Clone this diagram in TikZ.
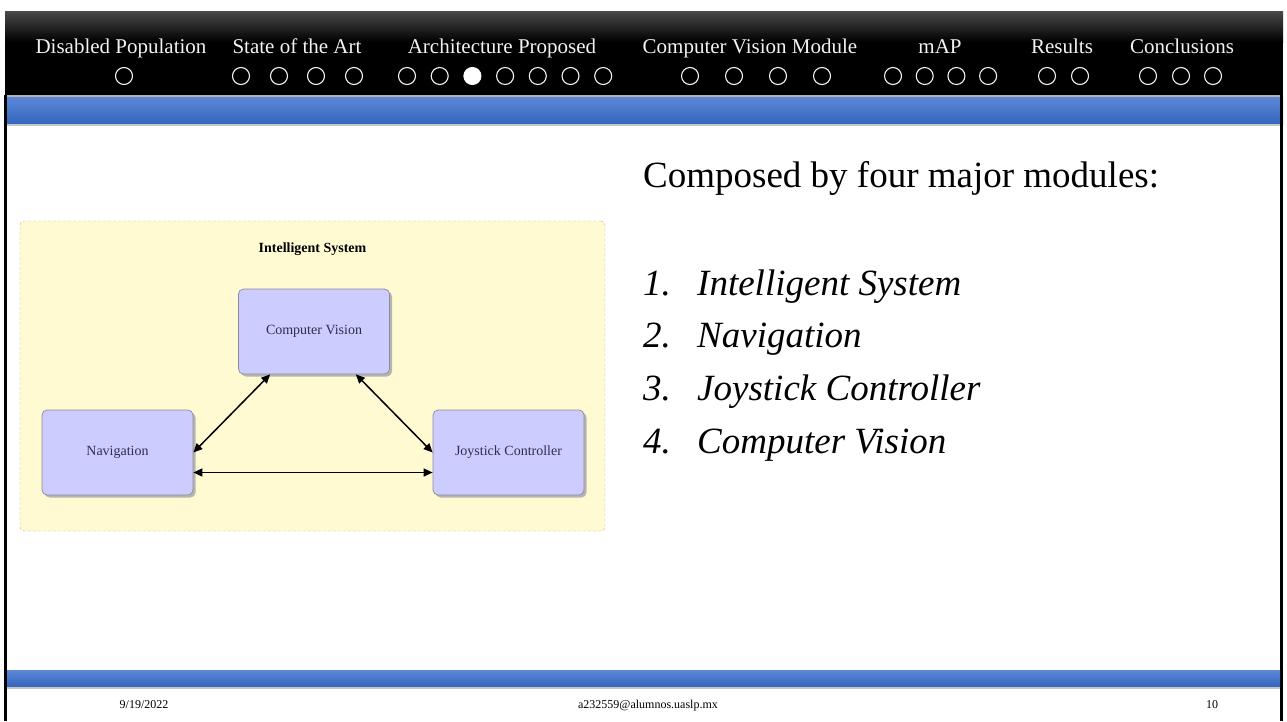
\documentclass[tikz,border=0pt]{standalone}
\usepackage{fontspec}
\setmainfont{Liberation Serif}
\usetikzlibrary{positioning}
\usetikzlibrary{shadows}
\usetikzlibrary{arrows.meta}

\definecolor{bandtop}{HTML}{5B87D6}
\definecolor{bandbot}{HTML}{3465BE}
\definecolor{headgrey}{HTML}{4A4A4A}
\definecolor{sysfill}{HTML}{FFFAD2}
\definecolor{sysline}{HTML}{BDB89A}
\definecolor{modfill}{HTML}{CCCCFF}
\definecolor{modline}{HTML}{8A8A9E}
\definecolor{modtext}{HTML}{2E2E4E}

\tikzset{
  navtitle/.style={anchor=base,inner sep=0pt,text=white!95!black,font=\fontsize{21}{24}\selectfont},
  navdot/.style={circle,draw=white!95!black,line width=1.1pt,minimum size=17pt,inner sep=0pt},
  band/.style={top color=bandtop,bottom color=bandbot},
  module/.style={draw=modline,line width=0.7pt,fill=modfill,rounded corners=5pt,
    minimum width=151pt,minimum height=85pt,inner sep=0pt,text=modtext,
    font=\fontsize{14}{16}\selectfont,
    drop shadow={shadow xshift=2.5pt,shadow yshift=-2.5pt,fill=gray!70,opacity=0.8}},
  biarrow/.style={{Triangle[length=9pt,width=8pt]}-{Triangle[length=9pt,width=8pt]},line width=1.5pt},
  bigtext/.style={anchor=base west,inner sep=0pt,font=\fontsize{37}{40}\selectfont},
  footnote/.style={anchor=base,inner sep=0pt,font=\fontsize{12}{14}\selectfont}
}

\begin{document}
\begin{tikzpicture}[x=1pt,y=-1pt]
  \useasboundingbox (0,0) rectangle (1287,721);
  \fill[white] (0,0) rectangle (1287,721);

  %header
  \fill[black] (5,11) rectangle (1283,95);
  \shade[top color=headgrey,bottom color=black] (5,11) rectangle (1283,42);
  \fill[gray!60] (5,95) rectangle (1283,97);
  \shade[band] (5,97) rectangle (1283,124);
  \fill[gray!45] (5,124) rectangle (1283,126);

  \node[navtitle] (disabled) at (121,53) {Disabled Population};
  \node[navtitle] (state) at (297,53) {State of the Art};
  \node[navtitle] (arch) at (502,53) {Architecture Proposed};
  \node[navtitle] (cvm) at (750,53) {Computer Vision Module};
  \node[navtitle] (map) at (940,53) {mAP};
  \node[navtitle] (results) at (1062,53) {Results};
  \node[navtitle] (concl) at (1182,53) {Conclusions};

  \node[navdot] (disabled-1) at (124,76) {};
  \foreach \i/\x in {1/241,2/279,3/316,4/354}
    \node[navdot] (state-\i) at (\x,76) {};
  \foreach \i in {1,...,7}
    \node[navdot] (arch-\i) at (407+32.7*\i-32.7,76) {};
  \fill[white] (arch-3) circle (8.5pt);
  \foreach \i in {1,...,4}
    \node[navdot] (cvm-\i) at (690+44*\i-44,76) {};
  \foreach \i in {1,...,4}
    \node[navdot] (map-\i) at (893+31.7*\i-31.7,76) {};
  \foreach \i/\x in {1/1047,2/1080}
    \node[navdot] (results-\i) at (\x,76) {};
  \foreach \i/\x in {1/1148,2/1181,3/1213}
    \node[navdot] (concl-\i) at (\x,76) {};

  %frame
  \fill[black] (4,95) rectangle (7,721);
  \fill[black] (1280,95) rectangle (1283,721);

  %diagram
  \node[draw=sysline,dash pattern=on 3pt off 2pt,fill=sysfill,rounded corners=4pt,
    minimum width=585pt,minimum height=310pt,inner sep=0pt] (sys) at (312.5,376) {};
  \node[at=(sys.north),below=22pt,inner sep=0pt,font=\fontsize{14}{16}\selectfont\bfseries] (systitle) {Intelligent System};
  \node[module] (cv) at (314,331.5) {Computer Vision};
  \node[module] (nav) at (117.5,452.5) {Navigation};
  \node[module] (joy) at (508.5,452.5) {Joystick Controller};
  \draw[biarrow] ([xshift=32pt]cv.south west) -- (nav.east);
  \draw[biarrow] ([xshift=-34pt]cv.south east) -- (joy.west);
  \draw[biarrow] ([yshift=-20pt]nav.east) -- ([yshift=-20pt]joy.west);

  %text
  \node[bigtext] (composed) at (643,187) {Composed by four major modules:};
  \foreach \i/\t in {1/Intelligent System,2/Navigation,3/Joystick Controller,4/Computer Vision}{
    \node[bigtext,font=\fontsize{37}{40}\selectfont\itshape] (num-\i) at (643,295+52.7*\i-52.7) {\i.};
    \node[bigtext,font=\fontsize{37}{40}\selectfont\itshape] (item-\i) at (697,295+52.7*\i-52.7) {\t};
  }

  %footer
  \shade[band] (7,670) rectangle (1280,687);
  \fill[gray!45] (7,687) rectangle (1280,689);
  \node[footnote] (date) at (144,708) {9/19/2022};
  \node[footnote] (mail) at (648,708) {a232559@alumnos.uaslp.mx};
  \node[footnote] (page) at (1212,708) {10};
\end{tikzpicture}
\end{document}
